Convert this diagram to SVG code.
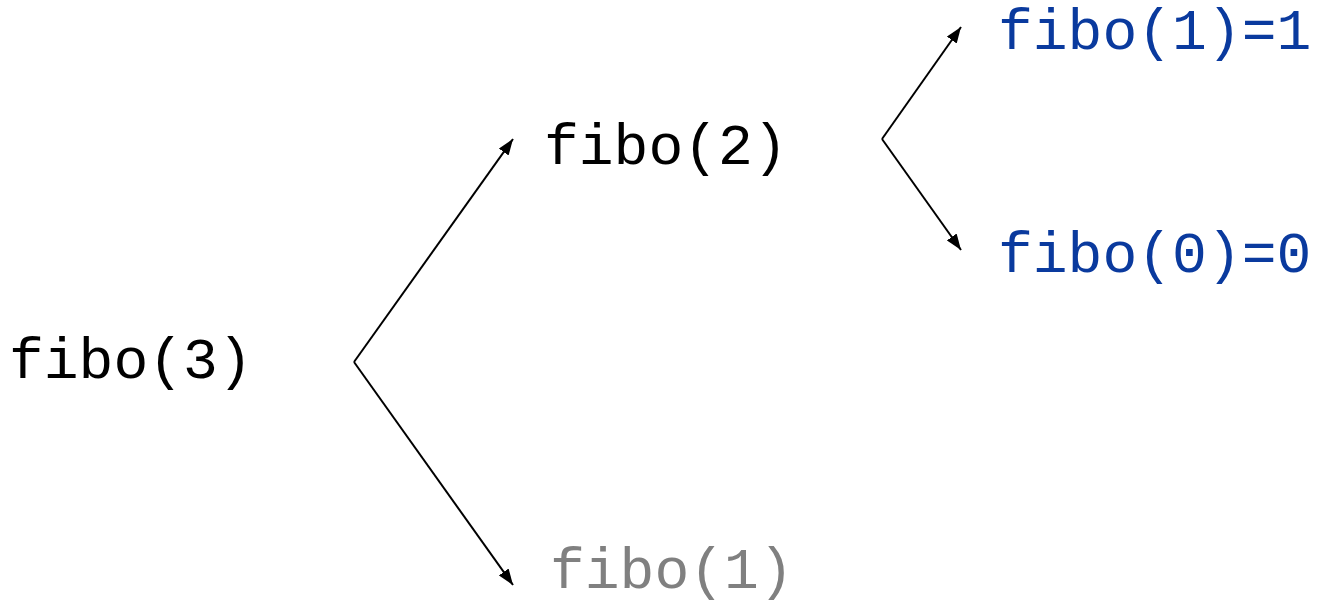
<svg xmlns="http://www.w3.org/2000/svg" width="1317" height="609" viewBox="0 0 1317 609">
<style>
.t{font-family:"Liberation Mono","Courier New",monospace;font-size:58px}
.k{fill:#000}
.g{fill:#808080}
.b{fill:#0a3a9e}
.c{fill:none;stroke:#000;stroke-width:2}
</style>
<defs>
<marker id="ah" viewBox="0 0 16 12" refX="16" refY="6" markerWidth="16" markerHeight="12" markerUnits="userSpaceOnUse" orient="auto">
<path d="M0,0 L16,6 L0,12 Z" fill="#000"/>
</marker>
</defs>
<rect width="1317" height="609" fill="#fff"/>
<g id="connectors">
<path class="c" d="M354,362 L513,139" marker-end="url(#ah)"/>
<path class="c" d="M354,362 L513,585" marker-end="url(#ah)"/>
<path class="c" d="M882,139 L961,27" marker-end="url(#ah)"/>
<path class="c" d="M882,139 L961,250" marker-end="url(#ah)"/>
</g>
<g id="fibo3"><text class="t k" x="9" y="378">fibo(3)</text></g>
<g id="fibo2"><text class="t k" x="544" y="164">fibo(2)</text></g>
<g id="fibo1"><text class="t g" x="550" y="588">fibo(1)</text></g>
<g id="fibo1res"><text class="t b" x="998" y="49">fibo(1)=1</text></g>
<g id="fibo0res"><text class="t b" x="998" y="272">fibo(0)=0</text></g>
</svg>
